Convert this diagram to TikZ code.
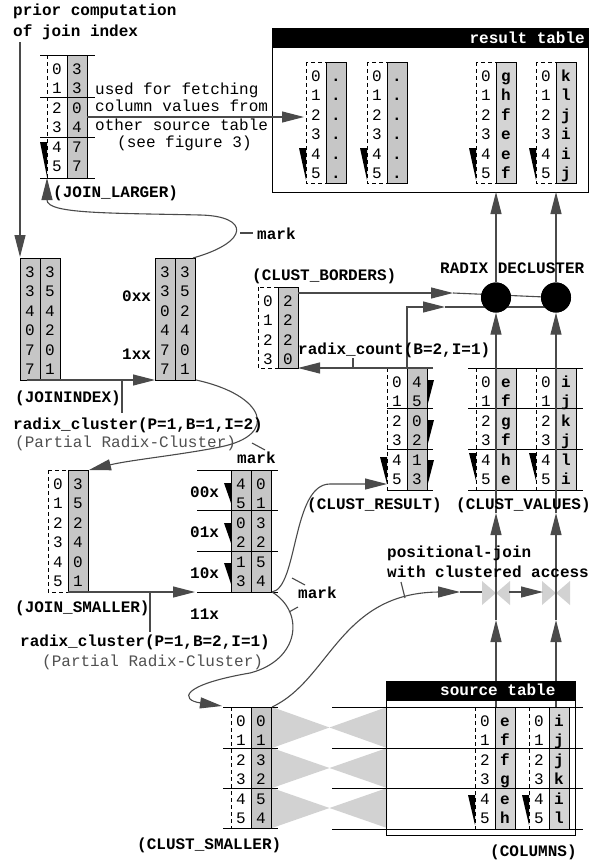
\documentclass[tikz,border=0pt]{standalone}
\usepackage{fontspec}
\setmonofont{Liberation Mono}
\usetikzlibrary{arrows.meta}
\definecolor{lg}{HTML}{4A4A4A}
\definecolor{cg}{HTML}{C6C6C6}
\definecolor{cl}{HTML}{D4D4D4}
\definecolor{bt}{HTML}{D2D2D2}
\definecolor{pg}{HTML}{505050}
\newcommand\ftn{\fontsize{16}{19}\selectfont\ttfamily}
\newcommand\idxcol[5]{\draw[idxbox] (#2,#3) rectangle (#2+20,#4);
  \foreach \v [count=\k from 0] in {#5}{\node[cell] (#1-\k) at (#2+10,#3+19+19.5*\k) {\v};}}
\newcommand\valcol[7]{\draw[valbox,fill=#7] (#2,#3) rectangle (#2+20,#4);
  \foreach \v [count=\k from 0] in {#5}{\node[#6] (#1-\k) at (#2+10,#3+19+19.5*\k) {\v};}}
\newcommand\lwedge[3]{\fill (#1-7,#2) -- (#1,#2) -- (#1,#3) -- cycle;}
\newcommand\rwedge[3]{\fill (#1,#2) -- (#1+7,#2) -- (#1,#3) -- cycle;}
\newcommand\mybowtie[4]{\fill[bt] (#1,#3) -- ({(#1+#2)/2},{(#3+#4)/2}) -- (#1,#4) -- cycle;
  \fill[bt] (#2,#3) -- ({(#1+#2)/2},{(#3+#4)/2}) -- (#2,#4) -- cycle;}
\begin{document}
\begin{tikzpicture}[x=1pt,y=-1pt,
  txt/.style={font=\ftn, inner sep=0pt, anchor=base west},
  btxt/.style={font=\ftn\bfseries, inner sep=0pt, anchor=base west},
  cell/.style={font=\ftn, inner sep=0pt, anchor=base},
  bcell/.style={font=\ftn\bfseries, inner sep=0pt, anchor=base},
  conn/.style={draw=lg, line width=1.1pt},
  arr/.style={draw=lg, line width=1.1pt, -{Triangle[length=22pt,width=11pt]}},
  grp/.style={draw=black, line width=1pt},
  idxbox/.style={draw=black, line width=0.9pt, dash pattern=on 4pt off 3pt},
  valbox/.style={draw=black, line width=1pt},
  dot/.style={circle, fill=black, minimum size=30pt, inner sep=0pt}
]
\useasboundingbox (0,0) rectangle (591,862);

% ---------- bowties ----------
\mybowtie{272}{387}{707}{748}
\mybowtie{272}{387}{748}{788}
\mybowtie{272}{387}{788}{828}
\mybowtie{482}{510}{581}{605}
\mybowtie{542}{570}{581}{605}

% ---------- JOIN_LARGER ----------
\idxcol{jlI}{47}{55}{178}{0,1,2,3,4,5}
\valcol{jlV}{67}{55}{178}{3,3,0,4,7,7}{cell}{cg}
\foreach \y in {55,97,137,178} \draw[grp] (40,\y) -- (95,\y);
\lwedge{47}{142}{177}

% ---------- result table ----------
\draw[line width=1pt] (272,28) rectangle (588,192);
\idxcol{r1I}{306}{62}{183}{0,1,2,3,4,5}
\valcol{r1V}{326}{62}{183}{.,.,.,.,.,.}{bcell}{cg}
\idxcol{r2I}{367}{62}{183}{0,1,2,3,4,5}
\valcol{r2V}{387}{62}{183}{.,.,.,.,.,.}{bcell}{cg}
\idxcol{r3I}{476}{62}{183}{0,1,2,3,4,5}
\valcol{r3V}{496}{62}{183}{g,h,f,e,e,f}{bcell}{cl}
\idxcol{r4I}{536}{62}{183}{0,1,2,3,4,5}
\valcol{r4V}{556}{62}{183}{k,l,j,i,i,j}{bcell}{cl}
\lwedge{306}{148}{180}
\lwedge{367}{148}{180}
\lwedge{476}{148}{180}
\lwedge{536}{148}{180}
\fill[black] (272,28) rectangle (588,48);
\node[btxt,text=white,anchor=base east] (tRT) at (585,43) {result table};

% ---------- JOININDEX ----------
\valcol{ji1}{20}{258}{380}{3,3,4,0,7,7}{cell}{cg}
\valcol{ji2}{40}{258}{380}{3,5,4,2,0,1}{cell}{cg}
\valcol{jk1}{155}{258}{380}{3,3,0,4,7,7}{cell}{cg}
\valcol{jk2}{175}{258}{380}{3,5,2,4,0,1}{cell}{cg}

% ---------- CLUST_BORDERS ----------
\idxcol{cbI}{258}{287}{368}{0,1,2,3}
\valcol{cbV}{278}{287}{368}{2,2,2,0}{cell}{cg}

% ---------- CLUST_RESULT ----------
\idxcol{crI}{387}{368}{490}{0,1,2,3,4,5}
\valcol{crV}{407}{368}{490}{4,5,0,2,1,3}{cell}{cg}
\foreach \y in {368,408,449,490} \draw[grp] (387,\y) -- (433,\y);
\rwedge{427}{380}{407}
\rwedge{427}{420}{447}
\rwedge{427}{460}{487}
\lwedge{387}{457}{484}

% ---------- CLUST_VALUES ----------
\idxcol{cv1I}{476}{368}{490}{0,1,2,3,4,5}
\valcol{cv1V}{496}{368}{490}{e,f,g,f,h,e}{bcell}{cl}
\idxcol{cv2I}{536}{368}{490}{0,1,2,3,4,5}
\valcol{cv2V}{556}{368}{490}{i,j,k,j,l,i}{bcell}{cl}
\foreach \y in {368,408,449,490} \draw[grp] (468,\y) -- (583,\y);
\lwedge{476}{453}{481}
\lwedge{536}{453}{481}

% ---------- JOIN_SMALLER ----------
\idxcol{jsI}{48}{470}{592}{0,1,2,3,4,5}
\valcol{jsV}{68}{470}{592}{3,5,2,4,0,1}{cell}{cg}

% ---------- clustered smaller (middle) ----------
\valcol{mc1}{231}{470}{592}{4,5,0,2,1,3}{cell}{cg}
\valcol{mc2}{251}{470}{592}{0,1,3,2,5,4}{cell}{cg}
\foreach \y in {470,510,551,592} \draw[grp] (197,\y) -- (278,\y);
\lwedge{231}{483}{503}
\lwedge{231}{523}{543}
\lwedge{231}{563}{584}

% ---------- CLUST_SMALLER ----------
\idxcol{csI}{231}{707}{828}{0,1,2,3,4,5}
\valcol{csV}{251}{707}{828}{0,1,3,2,5,4}{cell}{cg}
\foreach \y in {707,748,788,828} \draw[grp] (223,\y) -- (278,\y);

% ---------- source table ----------
\draw[line width=1pt] (386,681) rectangle (575,835);
\idxcol{st1I}{475}{707}{829}{0,1,2,3,4,5}
\valcol{st1V}{495}{707}{829}{e,f,f,g,e,h}{bcell}{cl}
\idxcol{st2I}{529}{707}{829}{0,1,2,3,4,5}
\valcol{st2V}{549}{707}{829}{i,j,j,k,i,l}{bcell}{cl}
\foreach \y in {707,748,788,829} \draw[grp] (332,\y) -- (583,\y);
\lwedge{475}{795}{825}
\lwedge{529}{795}{825}

% ---------- declustering ----------
\node[dot] (rd1) at (496,297.5) {};
\node[dot] (rd2) at (556,297.5) {};

% ---------- coordinates ----------
\coordinate (jlOut) at (87,117);
\coordinate (rtIn) at (304,117);
\coordinate (priorL) at (20,42);
\coordinate (jiTop) at (20,257);
\coordinate (jiB) at (27,380);
\coordinate (jkB) at (155,380);
\coordinate (jkT) at (193,258);
\coordinate (jlB) at (47,178);
\coordinate (jkBR) at (196,380);
\coordinate (jsTR) at (89,470);
\coordinate (jsB) at (68,592);
\coordinate (mcB) at (195,592);
\coordinate (mcBR) at (272,592);
\coordinate (crIn) at (387,484);
\coordinate (csTL) at (222,706);
\coordinate (csTR) at (272,707);
\coordinate (pjA) at (460,592);
\coordinate (bw1L) at (482,592);
\coordinate (bw1R) at (509,592);
\coordinate (bw2L) at (543,592);
\coordinate (crR) at (433,368);
\coordinate (cbR) at (298,368);
\coordinate (cbO) at (298,293);
\coordinate (crT) at (407,368);

% ---------- connectors ----------
\draw[arr] (jlOut) -- (rtIn);
\draw[arr] (priorL) -- (jiTop);
\draw[arr] (jiB) -- (jkB);
\draw[conn] (122,380) -- (122,413);
\draw[arr] (jkT) .. controls (250,242) and (250,216) .. (200,215)
   .. controls (110,213) and (47,214) .. (47,200) -- (jlB);
\draw[conn] (240,233) -- (253,233);
\draw[arr] (jkBR) .. controls (265,395) and (280,435) .. (220,447)
   .. controls (180,455) and (130,460) .. (jsTR);
\draw[conn] (252,443) -- (265,450);
\draw[arr] (jsB) -- (mcB);
\draw[conn] (150,592) -- (150,632);
\draw[arr] (mcBR) .. controls (298,588) and (292,484) .. (330,484) -- (crIn);
\draw[arr] (mcBR) .. controls (305,612) and (300,660) .. (250,673)
   .. controls (180,685) and (180,700) .. (csTL);
\draw[conn] (292,578) -- (305,585);
\draw[conn] (289,612) -- (298,607);
\draw[arr] (csTR) .. controls (330,680) and (340,592) .. (440,592) -- (pjA);
\draw[conn] (pjA) -- (bw1L);
\draw[conn] (405,598) -- (401,582);
\draw[arr] (bw1R) -- (bw2L);
\draw[arr] (crR) -- (cbR);
\draw[conn] (353,368) -- (353,358);
\draw[arr] (cbO) -- (453,293);
\draw[conn] (453,293) -- (rd2);
\draw[arr] (crT) -- (407,307) -- (445,307);
\draw[conn] (445,307) -- (556,307);
\foreach \x/\n in {496/rd1,556/rd2}{
  \draw[arr] (\x,707) -- (\x,620);
  \draw[arr] (\x,620) -- (\x,513);
  \draw[conn] (\x,513) -- (\x,368);
  \draw[arr] (\x,368) -- (\n.south);
  \draw[arr] (\n.north) -- (\x,192);
}
\node[dot] (rd1b) at (rd1) {};
\node[dot] (rd2b) at (rd2) {};

% ---------- source header ----------
\fill[black] (386,681) rectangle (575,701);
\node[btxt,text=white] (tST) at (440,695) {source table};

% ---------- labels ----------
\node[btxt] (tPrior) at (13,16) {prior computation};
\node[btxt] (tOfJoin) at (13,36) {of join index};
\node[txt] (tUsed) at (95,94) {used for fetching};
\node[txt] (tCol) at (95,111) {column values from};
\node[txt] (tOther) at (95,130) {other source table};
\node[txt] (tSee) at (117,147) {(see figure 3)};
\node[btxt] (tJL) at (53,197) {(JOIN\_LARGER)};
\node[btxt] (tMark1) at (257,239) {mark};
\node[btxt] (tCB) at (252,280) {(CLUST\_BORDERS)};
\node[btxt] (tRD) at (440,273) {RADIX DECLUSTER};
\node[btxt] (t0xx) at (122,301) {0xx};
\node[btxt] (t1xx) at (122,359) {1xx};
\node[btxt] (tRC) at (298,354) {radix\_count(B=2,I=1)};
\node[btxt] (tJI) at (15,402) {(JOININDEX)};
\node[btxt] (tRC1) at (13,429) {radix\_cluster(P=1,B=1,I=2)};
\node[txt,text=pg] (tP1) at (15,447) {(Partial Radix-Cluster)};
\node[btxt] (tMark2) at (237,463) {mark};
\node[btxt] (t00x) at (190,497) {00x};
\node[btxt] (t01x) at (190,537) {01x};
\node[btxt] (t10x) at (190,578) {10x};
\node[btxt] (t11x) at (190,619) {11x};
\node[btxt] (tCR) at (307,509) {(CLUST\_RESULT)};
\node[btxt] (tCV) at (456,509) {(CLUST\_VALUES)};
\node[btxt] (tPJ1) at (387,557) {positional-join};
\node[btxt] (tPJ2) at (387,577) {with clustered access};
\node[btxt] (tMark3) at (298,598) {mark};
\node[btxt] (tJS) at (15,612) {(JOIN\_SMALLER)};
\node[btxt] (tRC2) at (20,646) {radix\_cluster(P=1,B=2,I=1)};
\node[txt,text=pg] (tP2) at (42,666) {(Partial Radix-Cluster)};
\node[btxt] (tCS) at (137,849) {(CLUST\_SMALLER)};
\node[btxt] (tCOL) at (490,856) {(COLUMNS)};
\end{tikzpicture}
\end{document}
